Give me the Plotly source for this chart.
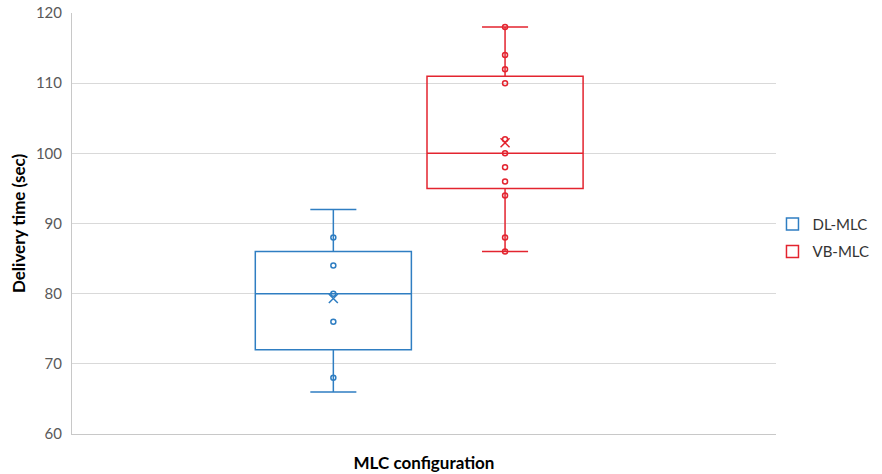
import plotly.graph_objects as go

# ---- data ----
series_names = ["DL-MLC", "VB-MLC"]
series_pos = [0, 1]
q1_vals = [72, 95]
median_vals = [80, 100]
q3_vals = [86, 111]
lower_vals = [66, 86]
upper_vals = [92, 118]
mean_vals = [79.3, 101.5]
dl_points = [68, 76, 80, 84, 88]
vb_points = [86, 88, 94, 96, 98, 100, 102, 110, 112, 114, 118]
points = [dl_points, vb_points]
colors = ["#2f7ec2", "#e3242f"]
y_ticks = [60, 70, 80, 90, 100, 110, 120]

FONT = "Lato, 'Open Sans', sans-serif"

fig = go.Figure()
for i, name in enumerate(series_names):
    fig.add_trace(go.Box(
        name=name,
        x=[series_pos[i]],
        q1=[q1_vals[i]], median=[median_vals[i]], q3=[q3_vals[i]],
        lowerfence=[lower_vals[i]], upperfence=[upper_vals[i]],
        width=0.909,
        whiskerwidth=0.295,
        fillcolor="rgba(255,255,255,0)",
        line=dict(color=colors[i], width=1.5),
        boxpoints=False,
        legendgroup=name,
        showlegend=True,
    ))
    fig.add_trace(go.Scatter(
        x=[series_pos[i]] * len(points[i]), y=points[i],
        mode="markers",
        marker=dict(symbol="circle-open", size=5, color=colors[i],
                    line=dict(width=1.5, color=colors[i])),
        showlegend=False, hoverinfo="y",
    ))
    fig.add_trace(go.Scatter(
        x=[series_pos[i]], y=[mean_vals[i]],
        mode="markers",
        marker=dict(symbol="x-thin-open", size=9, color=colors[i],
                    line=dict(width=1.5, color=colors[i])),
        showlegend=False, hoverinfo="y",
    ))

fig.update_layout(
    width=882, height=474,
    margin=dict(l=72, r=106, t=13, b=40, autoexpand=False),
    paper_bgcolor="white", plot_bgcolor="white",
    font=dict(family=FONT, color="#595959", size=15),
    showlegend=True,
    legend=dict(x=0.995, y=0.466, xanchor="left", yanchor="middle",
                font=dict(size=15, color="#333333", family=FONT),
                traceorder="grouped", tracegroupgap=5,
                bgcolor="rgba(0,0,0,0)"),
    xaxis=dict(range=[-1.522, 2.578], showticklabels=False, showgrid=False,
               zeroline=False, showline=True, linecolor="#c8c8c8", linewidth=1,
               ticks="", automargin=False,
               title=dict(text="<b>MLC configuration</b>", standoff=23,
                          font=dict(size=17, color="#000000", family=FONT))),
    yaxis=dict(range=[60, 120], tickvals=y_ticks, showgrid=True,
               gridcolor="#d9d9d9", gridwidth=1, zeroline=False,
               showline=True, linecolor="#c8c8c8", linewidth=1,
               ticks="", ticklabelstandoff=6, automargin=False,
               title=dict(text="<b>Delivery time (sec)</b>", standoff=5,
                          font=dict(size=17, color="#000000", family=FONT))),
)

fig.write_html(
    "out.html",
    config={"displayModeBar": False},
    post_script="document.body.style.margin='0';document.body.style.overflow='hidden';",
)
